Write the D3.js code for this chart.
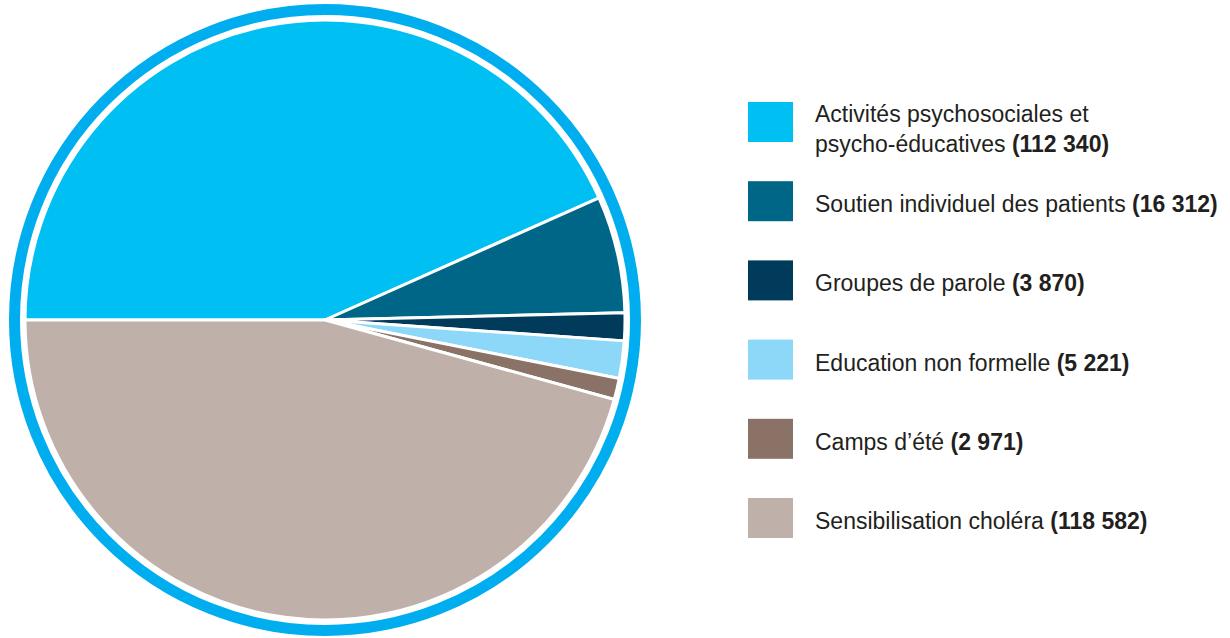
<!DOCTYPE html>
<html>
<head>
<meta charset="utf-8">
<script src="https://cdn.jsdelivr.net/npm/d3@7"></script>
<style>
  body { margin: 0; background: #ffffff; }
  text { font-family: "Liberation Sans", Arial, sans-serif; fill: #231f20; }
</style>
</head>
<body>
<div id="vis"></div>
<script>
var w = 1230;
var h = 638;

// data
var categories = [
  'Activités psychosociales et psycho-éducatives',
  'Soutien individuel des patients',
  'Groupes de parole',
  'Education non formelle',
  'Camps d\u2019été',
  'Sensibilisation choléra'
];
var values = [112340, 16312, 3870, 5221, 2971, 118582];
var valueLabels = ['(112 340)', '(16 312)', '(3 870)', '(5 221)', '(2 971)', '(118 582)'];
// legend text split in lines (last line gets the bold value)
var legendLines = [
  ['Activités psychosociales et', 'psycho-éducatives'],
  ['Soutien individuel des patients'],
  ['Groupes de parole'],
  ['Education non formelle'],
  ['Camps d\u2019été'],
  ['Sensibilisation choléra']
];
var colors = ['#00bff3', '#006687', '#003b5c', '#8dd8f8', '#8a7267', '#bfb0a9'];

var cx = 325, cy = 320, r = 300;

var svg = d3.select('#vis')
  .append('svg')
    .attr('width', w)
    .attr('height', h);

// outer ring
svg.append('circle')
  .attr('cx', cx)
  .attr('cy', cy)
  .attr('r', 310.5)
  .style('fill', 'none')
  .style('stroke', '#00aeef')
  .style('stroke-width', 11);

var pie = d3.pie()
  .sort(null)
  .startAngle(-Math.PI / 2)
  .endAngle(Math.PI * 1.5);

var arc = d3.arc()
  .innerRadius(0)
  .outerRadius(r);

var g = svg.append('g')
  .attr('transform', 'translate(' + cx + ',' + cy + ')');

g.selectAll('path')
  .data(pie(values))
  .enter()
  .append('path')
    .attr('d', arc)
    .style('fill', function(d, i) { return colors[i]; })
    .style('stroke', '#ffffff')
    .style('stroke-width', 3)
    .style('stroke-linejoin', 'round');

// legend
var legY = d3.scalePoint()
  .domain(d3.range(categories.length))
  .range([122, 518]);

var leg = svg.selectAll('.legend')
  .data(categories)
  .enter()
  .append('g')
    .attr('class', 'legend')
    .attr('transform', function(d, i) { return 'translate(0,' + legY(i) + ')'; });

leg.append('rect')
  .attr('x', 748)
  .attr('y', -20)
  .attr('width', 45)
  .attr('height', 40)
  .style('fill', function(d, i) { return colors[i]; });

leg.each(function(d, i) {
  var lines = legendLines[i];
  var t = d3.select(this).append('text')
    .attr('x', 815)
    .attr('y', lines.length > 1 ? 0 : 11)
    .style('font-size', '23px');
  lines.forEach(function(line, j) {
    t.append('tspan')
      .attr('x', 815)
      .attr('dy', j === 0 ? 0 : 30)
      .text(line);
    if (j === lines.length - 1) {
      t.append('tspan')
        .style('font-weight', 'bold')
        .text(' ' + valueLabels[i]);
    }
  });
});
</script>
</body>
</html>
